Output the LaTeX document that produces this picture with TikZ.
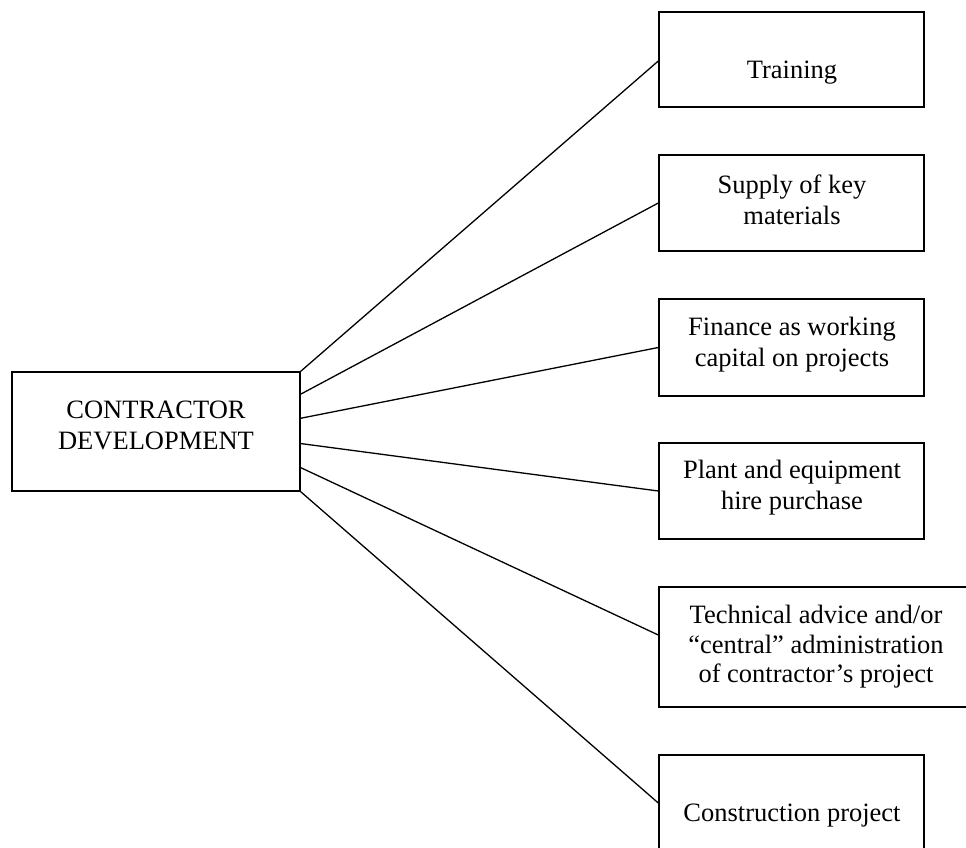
\documentclass[tikz,border=0pt]{standalone}
\usepackage{fontspec}
\setmainfont{Liberation Serif}
\usetikzlibrary{calc}
\begin{document}
\begin{tikzpicture}[x=1pt,y=-1pt,
  box/.style={draw=black, line width=1.4pt, rectangle, inner sep=0pt},
  txt/.style={align=center, inner sep=0pt, font=\fontsize{26.5}{31}\selectfont},
  link/.style={draw=black, line width=1.3pt}]
\useasboundingbox (0,0) rectangle (966,848);
% central box
\node[box, minimum width=288, minimum height=119] (c) at (156,431.5) {};
\node[txt] (ct) at (156,425) {CONTRACTOR\\DEVELOPMENT};
% right boxes
\node[box, minimum width=265, minimum height=95] (b1) at (791.5,59.5) {};
\node[txt] (t1) at (792,73) {Training};
\node[box, minimum width=265, minimum height=96] (b2) at (791.5,203) {};
\node[txt] (t2) at (792,200) {Supply of key\\materials};
\node[box, minimum width=265, minimum height=97] (b3) at (791.5,347.5) {};
\node[txt] (t3) at (792,345) {Finance as working\\capital on projects};
\node[box, minimum width=265, minimum height=96] (b4) at (791.5,491) {};
\node[txt] (t4) at (792,488) {Plant and equipment\\hire purchase};
\node[box, minimum width=314, minimum height=120] (b5) at (816,647) {};
\node[txt, font=\fontsize{26.5}{29.5}\selectfont] (t5) at (816,647) {Technical advice and/or\\``central'' administration\\of contractor's project};
\node[box, minimum width=265, minimum height=96] (b6) at (791.5,803) {};
\node[txt] (t6) at (792,816) {Construction project};
% connectors
\draw[link] (c.north east) -- ($(b1.west)+(0,1.5)$);
\draw[link] ($(c.north east)!0.19!(c.south east)$) -- (b2.west);
\draw[link] ($(c.north east)!0.39!(c.south east)$) -- (b3.west);
\draw[link] ($(c.north east)!0.60!(c.south east)$) -- (b4.west);
\draw[link] ($(c.north east)!0.80!(c.south east)$) -- ($(b5.west)+(0,-12)$);
\draw[link] (c.south east) -- (b6.west);
\end{tikzpicture}
\end{document}
